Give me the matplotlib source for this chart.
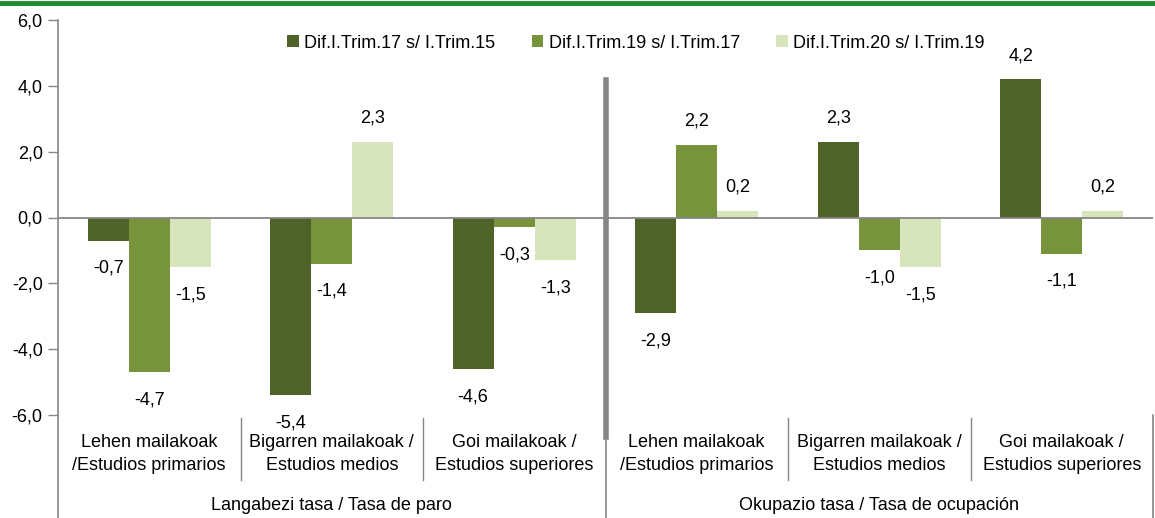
import matplotlib.pyplot as plt
from matplotlib.lines import Line2D

plt.rcParams['font.family'] = ['Liberation Sans', 'DejaVu Sans']

# categories (two groups of three)
categories = ['Lehen mailakoak\n/Estudios primarios',
              'Bigarren mailakoak /\nEstudios medios',
              'Goi mailakoak /\nEstudios superiores'] * 2
groups = ['Langabezi tasa / Tasa de paro', 'Okupazio tasa / Tasa de ocupación']

series_names = ['Dif.I.Trim.17 s/ I.Trim.15',
                'Dif.I.Trim.19 s/ I.Trim.17',
                'Dif.I.Trim.20 s/ I.Trim.19']
dif_17_15 = [-0.7, -5.4, -4.6, -2.9, 2.3, 4.2]
dif_19_17 = [-4.7, -1.4, -0.3, 2.2, -1.0, -1.1]
dif_20_19 = [-1.5, 2.3, -1.3, 0.2, -1.5, 0.2]

colors = ['#4f6228', '#77933c', '#d7e4bc']
grey = '#868686'
fs = 13

W, H = 1155, 518
fig = plt.figure(figsize=(W / 100, H / 100), dpi=100)
ax = fig.add_axes([58 / W, (H - 415) / H, (1153 - 58) / W, (415 - 20) / H])

bw = 0.225
xs = list(range(len(categories)))
for i, (vals, col, name) in enumerate(zip([dif_17_15, dif_19_17, dif_20_19], colors, series_names)):
    pos = [x + (i - 1) * bw for x in xs]
    ax.bar(pos, vals, width=bw, color=col, label=name, zorder=2)
    for p, v in zip(pos, vals):
        off = 17 if v >= 0 else -20
        ax.annotate(f'{v:.1f}'.replace('.', ','), (p, v), xytext=(0, off),
                    textcoords='offset points', ha='center', va='center', fontsize=fs)

ax.set_xlim(-0.5, len(categories) - 0.5)
ax.set_ylim(-6, 6)
yt = [-6, -4, -2, 0, 2, 4, 6]
ax.set_yticks(yt)
ax.set_yticklabels([f'{t:.1f}'.replace('.', ',') for t in yt], fontsize=fs)
ax.tick_params(axis='y', direction='out', length=7, color=grey, width=1, pad=4)
ax.set_xticks([])
for s in ['top', 'right', 'bottom']:
    ax.spines[s].set_visible(False)
ax.spines['left'].set_color(grey)
ax.spines['left'].set_linewidth(1.2)
ax.axhline(0, color=grey, lw=1.3, zorder=3)

# multi-level category axis below the plot
tr = ax.get_xaxis_transform()
px = lambda y: (415 - y) / 395

# middle thick separator
ax.plot([2.5, 2.5], [px(80), px(437)], color=grey, lw=4,
        transform=tr, clip_on=False, zorder=1)

for x, lab in zip(xs, categories):
    ax.text(x, px(454), lab, transform=tr, ha='center', va='center',
            fontsize=fs, linespacing=1.5)
for b in [0.5, 1.5, 3.5, 4.5]:
    ax.add_line(Line2D([b, b], [px(418), px(480)], transform=tr, color=grey,
                       lw=1, clip_on=False))
for b in [-0.5, 2.5, 5.5]:
    y0 = px(437) if b == 2.5 else px(415)
    if b == -0.5:
        y0 = 0
    ax.add_line(Line2D([b, b], [y0, px(518)], transform=tr, color=grey,
                       lw=1.2, clip_on=False))
for gi, g in enumerate(groups):
    ax.text(gi * 3 + 1, px(506), g, transform=tr, ha='center', va='center', fontsize=fs)

ax.legend(loc='center', bbox_to_anchor=(636 / W, (H - 43) / H), bbox_transform=fig.transFigure,
          ncol=3, frameon=False, fontsize=fs, handlelength=0.65, handleheight=0.65,
          handletextpad=0.3, columnspacing=2.0)

# green rule at the top
fig.add_artist(Line2D([0, 1], [(H - 3) / H, (H - 3) / H], color='#1a8a2a', lw=3.5,
                      transform=fig.transFigure))

fig.savefig('out.png', dpi=100)
